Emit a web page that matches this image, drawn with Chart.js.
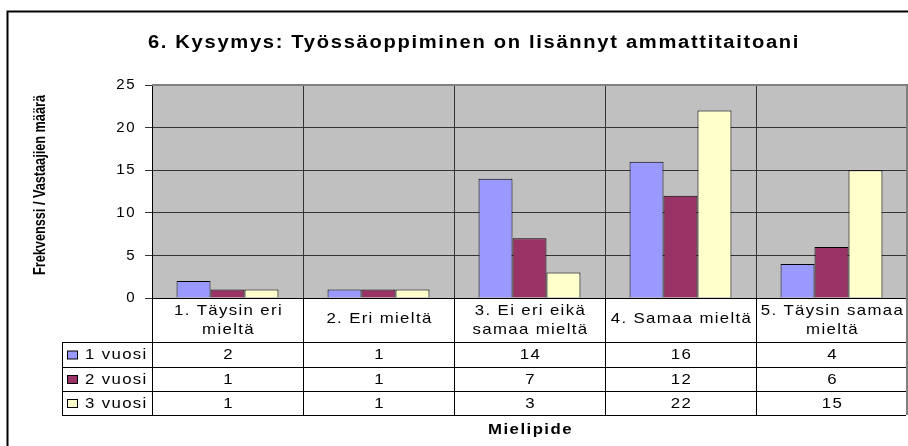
<!DOCTYPE html>
<html>
<head>
<meta charset="utf-8">
<script src="https://cdn.jsdelivr.net/npm/chart.js@4.4.1/dist/chart.umd.min.js"></script>
<style>
  body { margin: 0; background: #fff; }
  #wrap { width: 908px; height: 446px; }
</style>
</head>
<body>
<div id="wrap"><canvas id="kysymys6" width="908" height="446"></canvas></div>
<script>
// otsikot
const chartTitle = '6. Kysymys: Työssäoppiminen on lisännyt ammattitaitoani';
const yTitle = 'Frekvenssi / Vastaajien määrä';
const xTitle = 'Mielipide';

// kategoriat (rivitetty kuten taulukossa)
const categories = [
  ['1. Täysin eri', 'mieltä'],
  ['2. Eri mieltä'],
  ['3. Ei eri eikä', 'samaa mieltä'],
  ['4. Samaa mieltä'],
  ['5. Täysin samaa', 'mieltä']
];

// sarjat
const seriesNames = ['1 vuosi', '2 vuosi', '3 vuosi'];
const vuosi1 = [2, 1, 14, 16, 4];
const vuosi2 = [1, 1, 7, 12, 6];
const vuosi3 = [1, 1, 3, 22, 15];
const seriesColors = ['#9999FF', '#993366', '#FFFFCC'];

// y-akseli
const yMin = 0;
const yMax = 25;
const yStep = 5;

const FONT = '"Liberation Sans", Arial, sans-serif';
const STRETCH = 1.12;   // Excelin leveä teksti
const allSeries = [vuosi1, vuosi2, vuosi3];

function wideText(ctx, text, x, y, align) {
  ctx.save();
  ctx.translate(x, y);
  ctx.scale(STRETCH, 1);
  ctx.textAlign = align;
  ctx.fillText(text, 0, 0);
  ctx.restore();
}

// Excel-tyylinen kehys, taustaväri ja datataulukko
const excelFrame = {
  id: 'excelFrame',
  beforeUpdate(chart) {
    chart.ctx.letterSpacing = '1.5px';
  },
  beforeDraw(chart) {
    const ctx = chart.ctx, a = chart.chartArea;
    ctx.letterSpacing = '1.5px';
    ctx.save();
    ctx.fillStyle = '#C0C0C0';
    ctx.fillRect(a.left, a.top, a.right - a.left, a.bottom - a.top);
    ctx.restore();
  },
  afterDraw(chart) {
    const ctx = chart.ctx, a = chart.chartArea, xs = chart.scales.x;
    const colW = (a.right - a.left) / categories.length;
    const headerBottom = a.bottom + 44;
    const rowH = [25, 24, 24];
    const rowTops = [headerBottom];
    rowH.forEach((h, i) => rowTops.push(rowTops[i] + h));
    const tableBottom = rowTops[rowTops.length - 1];
    const legendLeft = 62;

    ctx.save();
    // ulkokehys
    ctx.strokeStyle = '#000';
    ctx.lineWidth = 2;
    ctx.beginPath();
    ctx.moveTo(908, 11.5);
    ctx.lineTo(7.5, 11.5);
    ctx.lineTo(7.5, 446);
    ctx.stroke();

    // piirtoalueen harmaa reuna
    ctx.strokeStyle = '#808080';
    ctx.lineWidth = 2;
    ctx.beginPath();
    ctx.moveTo(a.left, a.top);
    ctx.lineTo(a.right, a.top);
    ctx.lineTo(a.right, tableBottom);
    ctx.stroke();

    // taulukon viivat
    ctx.strokeStyle = '#000';
    ctx.lineWidth = 1;
    ctx.beginPath();
    rowTops.forEach(y => {
      ctx.moveTo(legendLeft, y + 0.5);
      ctx.lineTo(a.right - 1, y + 0.5);
    });
    ctx.moveTo(legendLeft + 0.5, headerBottom);
    ctx.lineTo(legendLeft + 0.5, tableBottom + 1);
    for (let i = 0; i < categories.length; i++) {
      const bx = Math.round(a.left + i * colW) + 0.5;
      ctx.moveTo(bx, a.bottom);
      ctx.lineTo(bx, tableBottom + 1);
    }
    ctx.stroke();

    // pääotsikko
    ctx.fillStyle = '#000';
    ctx.textBaseline = 'middle';
    ctx.font = 'bold 18px ' + FONT;
    ctx.letterSpacing = '1.5px';
    wideText(ctx, chartTitle, 474, 43, 'center');

    // otsakerivi
    ctx.font = '15px ' + FONT;
    ctx.letterSpacing = '1.2px';
    const headerMid = (a.bottom + headerBottom) / 2;
    categories.forEach((lines, i) => {
      const cx = xs.getPixelForValue(i) + 1;
      if (lines.length === 1) {
        wideText(ctx, lines[0], cx, headerMid - 1, 'center');
      } else {
        wideText(ctx, lines[0], cx, headerMid - 9.5, 'center');
        wideText(ctx, lines[1], cx, headerMid + 9.5, 'center');
      }
    });

    // datarivit
    allSeries.forEach((vals, s) => {
      const mid = rowTops[s] + rowH[s] / 2 + 0.5;
      vals.forEach((v, i) => {
        wideText(ctx, String(v), xs.getPixelForValue(i) + 1, mid, 'center');
      });
      ctx.fillStyle = seriesColors[s];
      ctx.fillRect(67.5, mid - 4, 10, 8);
      ctx.strokeStyle = '#000';
      ctx.strokeRect(67.5, mid - 4, 10, 8);
      ctx.fillStyle = '#000';
      wideText(ctx, seriesNames[s], 85, mid, 'left');
    });

    // x-akselin otsikko
    ctx.font = 'bold 15px ' + FONT;
    ctx.letterSpacing = '1.3px';
    wideText(ctx, xTitle, (a.left + a.right) / 2 + 1, 430, 'center');

    // y-akselin otsikko (kapea)
    ctx.translate(41, 185);
    ctx.rotate(-Math.PI / 2);
    ctx.letterSpacing = '0px';
    ctx.font = 'bold 16px ' + FONT;
    const w = ctx.measureText(yTitle).width;
    ctx.scale(180 / w, 1);
    ctx.textAlign = 'center';
    ctx.fillText(yTitle, 0, 0);
    ctx.restore();
    ctx.letterSpacing = '1.5px';
  }
};

new Chart(document.getElementById('kysymys6'), {
  type: 'bar',
  data: {
    labels: categories,
    datasets: allSeries.map((vals, s) => ({
      label: seriesNames[s],
      data: vals,
      backgroundColor: seriesColors[s],
      borderColor: '#000',
      borderWidth: 1,
      borderSkipped: 'bottom',
      categoryPercentage: 0.675,
      barPercentage: 1
    }))
  },
  options: {
    responsive: false,
    animation: false,
    events: [],
    layout: { padding: { top: 85, left: 40, right: 1, bottom: 148 } },
    plugins: {
      legend: { display: false },
      tooltip: { enabled: false },
      title: { display: false }
    },
    scales: {
      x: {
        ticks: { display: false },
        grid: { offset: true, drawTicks: false, color: '#333', lineWidth: 1 },
        border: { display: true, color: '#000', width: 1 }
      },
      y: {
        min: yMin,
        max: yMax,
        afterFit(scale) { scale.width = 112; },
        ticks: {
          stepSize: yStep,
          color: '#000',
          padding: 9,
          font: { family: FONT, size: 15 }
        },
        grid: { color: '#333', lineWidth: 1, tickLength: 7 },
        border: { display: true, color: '#000', width: 1 }
      }
    }
  },
  plugins: [excelFrame]
});
</script>
</body>
</html>
